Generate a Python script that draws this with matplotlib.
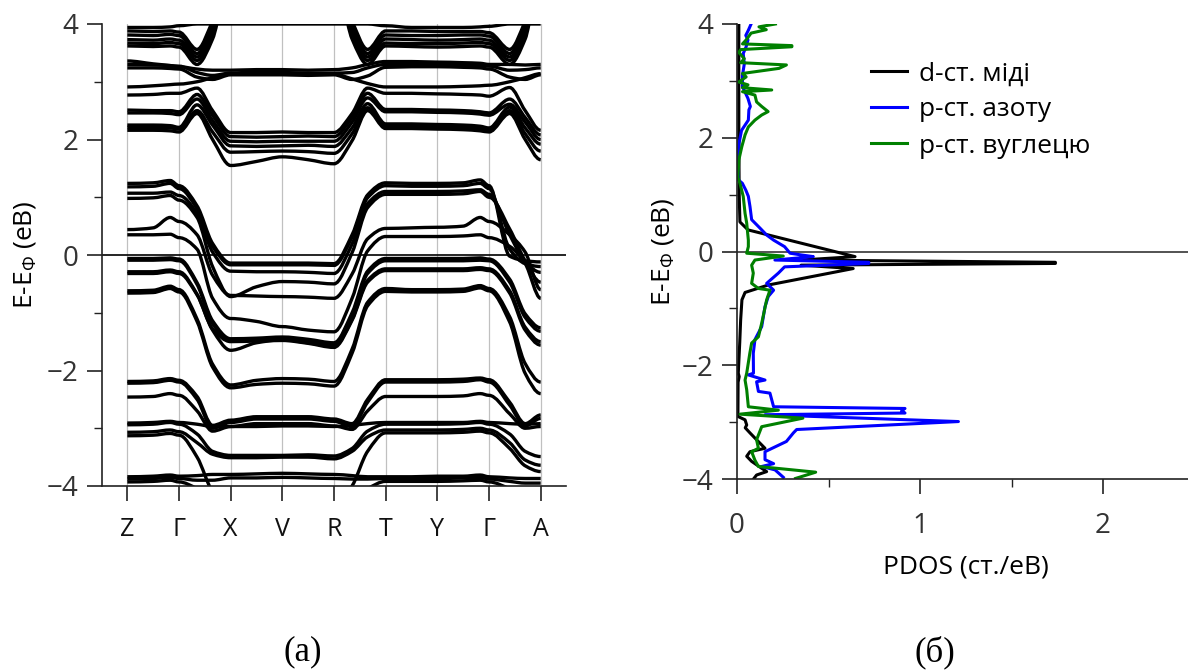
import numpy as np
import matplotlib
matplotlib.use("Agg")
import matplotlib.pyplot as plt
from matplotlib.path import Path
from matplotlib.patches import PathPatch

plt.rcParams['font.family'] = ['Open Sans', 'DejaVu Sans']
plt.rcParams['mathtext.fontset'] = 'custom'
plt.rcParams['mathtext.rm'] = 'Open Sans'
plt.rcParams['mathtext.default'] = 'regular'

# ---- band structure data ----
hs_pos = [0, 1, 2, 3, 4, 5, 6, 7, 8]
hs_labels = ['Z', 'Γ', 'X', 'V', 'R', 'T', 'Y', 'Γ', 'A']

k_nodes = [0, 0.5, 0.83, 1, 1.35, 1.65, 2, 2.5, 3, 3.5, 4, 4.35, 4.65,
           5, 5.5, 6, 6.5, 6.83, 7, 7.4, 7.7, 8]

bands = [
    # upper group (leaves the window between X and R)
    [3.94, 3.94, 3.95, 3.97, 4.0, 4.0, 4.0, 4.0, 4.0, 4.0, 4.0, 4.0, 4.0, 3.97, 3.94, 3.94, 3.94, 3.95, 3.96, 4.0, 4.0, 4.0],
    [3.88, 3.87, 3.88, 3.86, 3.56, 4.05, 4.9, 4.9, 4.9, 4.9, 4.9, 4.05, 3.56, 3.88, 3.88, 3.87, 3.87, 3.87, 3.85, 3.56, 4.05, 4.9],
    [3.81, 3.80, 3.82, 3.80, 3.49, 3.97, 4.9, 4.9, 4.9, 4.9, 4.9, 3.97, 3.49, 3.81, 3.80, 3.80, 3.81, 3.81, 3.79, 3.49, 3.97, 4.9],
    [3.73, 3.72, 3.74, 3.72, 3.43, 3.89, 4.9, 4.9, 4.9, 4.9, 4.9, 3.89, 3.43, 3.74, 3.73, 3.72, 3.73, 3.74, 3.72, 3.43, 3.89, 4.9],
    [3.67, 3.66, 3.68, 3.66, 3.37, 3.82, 4.9, 4.9, 4.9, 4.9, 4.9, 3.82, 3.37, 3.67, 3.66, 3.66, 3.67, 3.68, 3.66, 3.37, 3.82, 4.9],
    [3.62, 3.61, 3.62, 3.60, 3.30, 3.74, 4.9, 4.9, 4.9, 4.9, 4.9, 3.74, 3.30, 3.62, 3.61, 3.60, 3.61, 3.62, 3.60, 3.30, 3.74, 4.9],
    # flat bands around 3 eV
    [3.36, 3.31, 3.28, 3.26, 3.22, 3.20, 3.20, 3.21, 3.21, 3.20, 3.21, 3.24, 3.30, 3.35, 3.35, 3.34, 3.33, 3.32, 3.30, 3.30, 3.29, 3.30],
    [3.30, 3.29, 3.28, 3.27, 3.16, 3.11, 3.15, 3.17, 3.16, 3.15, 3.15, 3.16, 3.24, 3.30, 3.30, 3.30, 3.29, 3.28, 3.27, 3.20, 3.21, 3.24],
    [3.24, 3.24, 3.23, 3.22, 3.08, 3.04, 3.12, 3.12, 3.12, 3.11, 3.12, 3.04, 3.10, 3.25, 3.26, 3.26, 3.25, 3.24, 3.22, 3.08, 3.04, 3.12],
    [2.91, 2.93, 2.95, 2.96, 3.00, 3.07, 3.13, 3.14, 3.14, 3.14, 3.13, 3.05, 2.97, 2.91, 2.91, 2.91, 2.92, 2.93, 2.94, 3.00, 3.07, 3.14],
    # 1.5 - 2.9 eV group
    [2.77, 2.78, 2.80, 2.80, 2.89, 2.50, 2.12, 2.12, 2.13, 2.12, 2.12, 2.45, 2.89, 2.80, 2.80, 2.79, 2.78, 2.77, 2.75, 2.90, 2.50, 2.16],
    [2.51, 2.50, 2.50, 2.48, 2.78, 2.42, 2.05, 2.04, 2.05, 2.06, 2.05, 2.38, 2.80, 2.52, 2.52, 2.51, 2.50, 2.48, 2.46, 2.70, 2.38, 2.08],
    [2.46, 2.46, 2.45, 2.43, 2.70, 2.33, 1.97, 1.96, 1.97, 1.97, 1.97, 2.30, 2.72, 2.48, 2.48, 2.47, 2.46, 2.44, 2.42, 2.61, 2.30, 2.00],
    [2.25, 2.25, 2.24, 2.21, 2.60, 2.25, 1.89, 1.88, 1.89, 1.90, 1.88, 2.20, 2.62, 2.27, 2.27, 2.26, 2.25, 2.23, 2.20, 2.56, 2.20, 1.92],
    [2.21, 2.21, 2.20, 2.18, 2.50, 2.13, 1.78, 1.79, 1.80, 1.79, 1.76, 2.10, 2.55, 2.23, 2.23, 2.22, 2.21, 2.19, 2.17, 2.50, 2.10, 1.80],
    [2.16, 2.16, 2.15, 2.13, 2.45, 2.00, 1.55, 1.62, 1.70, 1.65, 1.58, 1.98, 2.50, 2.19, 2.19, 2.18, 2.17, 2.15, 2.13, 2.45, 2.00, 1.65],
    # bands crossing the Fermi level
    [1.24, 1.25, 1.29, 1.20, 0.85, 0.20, -0.14, -0.14, -0.14, -0.14, -0.15, 0.35, 1.04, 1.25, 1.24, 1.24, 1.25, 1.30, 1.20, -0.02, -0.10, -0.12],
    [1.18, 1.19, 1.24, 1.15, 0.80, 0.15, -0.17, -0.17, -0.17, -0.17, -0.18, 0.31, 0.99, 1.20, 1.19, 1.19, 1.20, 1.24, 1.15, 0.10, -0.15, -0.20],
    [1.07, 1.07, 1.09, 1.03, 0.72, 0.05, -0.28, -0.29, -0.29, -0.30, -0.32, 0.19, 0.89, 1.10, 1.10, 1.10, 1.11, 1.13, 1.05, 0.35, -0.12, -0.30],
    [0.98, 0.99, 1.03, 0.95, 0.65, -0.20, -0.72, -0.55, -0.46, -0.47, -0.50, 0.04, 0.82, 1.05, 1.05, 1.05, 1.06, 1.10, 1.00, 0.45, -0.10, -0.47],
    [0.44, 0.47, 0.65, 0.58, 0.35, -0.35, -0.70, -0.71, -0.72, -0.73, -0.75, -0.33, 0.28, 0.46, 0.47, 0.48, 0.50, 0.65, 0.58, 0.35, 0.05, -0.60],
    [0.35, 0.35, 0.36, 0.30, 0.10, -0.75, -1.10, -1.15, -1.24, -1.30, -1.33, -0.75, 0.07, 0.32, 0.32, 0.32, 0.33, 0.35, 0.30, 0.15, -0.15, -0.75],
    # below the Fermi level
    [-0.06, -0.06, -0.05, -0.07, -0.48, -1.14, -1.45, -1.44, -1.42, -1.46, -1.52, -1.00, -0.28, -0.06, -0.06, -0.06, -0.06, -0.05, -0.07, -0.42, -1.02, -1.26],
    [-0.09, -0.09, -0.08, -0.10, -0.51, -1.19, -1.48, -1.47, -1.45, -1.50, -1.56, -1.05, -0.32, -0.10, -0.10, -0.10, -0.10, -0.09, -0.10, -0.47, -1.08, -1.32],
    [-0.29, -0.29, -0.26, -0.29, -0.68, -1.30, -1.65, -1.52, -1.47, -1.52, -1.58, -1.11, -0.44, -0.24, -0.24, -0.24, -0.24, -0.22, -0.24, -0.62, -1.25, -1.50],
    [-0.32, -0.32, -0.29, -0.32, -0.69, -1.28, -1.50, -1.49, -1.48, -1.53, -1.60, -1.13, -0.47, -0.27, -0.27, -0.27, -0.27, -0.25, -0.27, -0.66, -1.30, -1.56],
    [-0.62, -0.61, -0.54, -0.60, -1.11, -1.89, -2.25, -2.17, -2.14, -2.15, -2.19, -1.63, -0.82, -0.58, -0.60, -0.60, -0.59, -0.53, -0.58, -1.07, -1.88, -2.20],
    [-0.66, -0.65, -0.58, -0.64, -1.15, -1.94, -2.30, -2.24, -2.22, -2.23, -2.27, -1.70, -0.88, -0.63, -0.64, -0.64, -0.63, -0.57, -0.62, -1.16, -2.05, -2.40],
    # -2 ... -4 eV
    [-2.19, -2.18, -2.14, -2.17, -2.45, -2.95, -2.86, -2.80, -2.80, -2.80, -2.84, -2.92, -2.50, -2.16, -2.16, -2.16, -2.15, -2.13, -2.16, -2.55, -2.92, -2.77],
    [-2.22, -2.21, -2.17, -2.20, -2.50, -3.00, -2.90, -2.84, -2.84, -2.84, -2.88, -2.97, -2.55, -2.20, -2.20, -2.20, -2.19, -2.16, -2.20, -2.60, -2.96, -2.83],
    [-2.46, -2.45, -2.40, -2.43, -2.70, -3.05, -2.97, -2.92, -2.92, -2.92, -2.96, -3.02, -2.70, -2.45, -2.45, -2.45, -2.44, -2.40, -2.43, -2.75, -3.00, -2.97],
    [-2.91, -2.90, -2.88, -2.90, -2.93, -2.97, -2.97, -2.97, -2.96, -2.96, -2.97, -2.95, -2.92, -2.90, -2.90, -2.90, -2.90, -2.88, -2.90, -2.92, -2.93, -2.92],
    [-2.94, -2.93, -2.90, -2.93, -3.10, -3.40, -3.47, -3.47, -3.47, -3.46, -3.48, -3.35, -3.05, -2.93, -2.93, -2.93, -2.92, -2.90, -2.93, -3.10, -3.40, -3.49],
    [-3.07, -3.06, -3.03, -3.06, -3.25, -3.45, -3.51, -3.51, -3.50, -3.50, -3.53, -3.40, -3.15, -3.03, -3.03, -3.03, -3.02, -3.00, -3.03, -3.25, -3.55, -3.64],
    [-3.13, -3.12, -3.09, -3.12, -3.50, -4.10, -4.40, -4.40, -4.40, -4.40, -4.40, -4.00, -3.40, -3.08, -3.08, -3.08, -3.07, -3.05, -3.08, -3.35, -3.65, -3.75],
    [-3.84, -3.83, -3.81, -3.83, -3.82, -3.80, -3.80, -3.79, -3.78, -3.79, -3.80, -3.82, -3.84, -3.84, -3.84, -3.83, -3.83, -3.81, -3.84, -3.86, -3.87, -3.87],
    [-3.88, -3.87, -3.85, -3.87, -3.90, -3.90, -3.86, -3.86, -3.85, -3.86, -3.87, -3.88, -3.88, -3.87, -3.87, -3.87, -3.86, -3.85, -3.88, -3.92, -3.95, -3.95],
    [-3.93, -3.92, -3.90, -3.93, -4.05, -4.30, -4.40, -4.40, -4.40, -4.40, -4.40, -4.30, -4.05, -3.92, -3.92, -3.92, -3.91, -3.90, -3.93, -4.05, -4.20, -4.30],
]

# ---- PDOS data (energy, states/eV) ----
e_cu = [4.0, 3.0, 2.0, 1.0, 0.52, 0.38, -0.09, -0.15, -0.19, -0.21, -0.24, -0.3, -0.59,
        -0.72, -0.85, -1.2, -1.6, -2.14, -2.2, -2.3, -2.9, -2.96, -3.05, -3.1, -3.19,
        -3.31, -3.46, -3.52, -3.6, -3.69, -3.75, -3.87, -3.93, -4.0]
dos_cu = [0.01, 0.01, 0.01, 0.012, 0.016, 0.06, 0.645, 0.35, 1.74, 1.74, 0.35, 0.635, 0.17,
          0.044, 0.027, 0.02, 0.015, 0.007, 0.012, 0.006, 0.005, 0.044, 0.053, 0.045, 0.071,
          0.107, 0.153, 0.071, 0.053, 0.08, 0.107, 0.162, 0.107, 0.09]

e_n = [4.0, 3.89, 3.8, 3.72, 3.6, 3.48, 3.3, 3.1, 2.9, 2.69, 2.55, 2.49, 2.31, 2.13, 1.9,
       1.67, 1.26, 1.2, 1.08, 0.97, 0.79, 0.56, 0.41, 0.29, 0.2, 0.085, -0.03, -0.06,
       -0.09, -0.15, -0.19, -0.21, -0.27, -0.38, -0.56, -0.68, -0.79, -0.97, -1.32,
       -1.55, -1.79, -2.14, -2.17, -2.26, -2.29, -2.46, -2.49, -2.73, -2.76, -2.8,
       -2.84, -2.87, -2.99, -3.13, -3.19, -3.34, -3.52, -3.66, -3.73, -3.78, -3.84, -3.97]
dos_n = [0.077, 0.062, 0.048, 0.06, 0.05, 0.034, 0.04, 0.03, 0.03, 0.06, 0.073, 0.065, 0.062,
         0.025, 0.011, 0.007, 0.007, 0.029, 0.048, 0.062, 0.071, 0.08, 0.126, 0.162, 0.2,
         0.26, 0.29, 0.35, 0.417, 0.207, 0.72, 0.72, 0.26, 0.226, 0.162, 0.2, 0.171, 0.153,
         0.135, 0.098, 0.089, 0.09, 0.062, 0.153, 0.107, 0.117, 0.18, 0.2, 0.918, 0.9,
         0.918, 0.153, 1.21, 0.326, 0.308, 0.27, 0.153, 0.153, 0.2, 0.135, 0.208, 0.253]

e_c = [4.0, 3.95, 3.9, 3.84, 3.72, 3.65, 3.62, 3.6, 3.55, 3.5, 3.39, 3.32, 3.28, 3.22,
       3.13, 3.07, 2.98, 2.93, 2.88, 2.84, 2.81, 2.75, 2.63, 2.55, 2.46, 2.4, 2.31, 2.19,
       2.05, 1.84, 1.61, 1.3, 1.2, 0.97, 0.67, 0.5, 0.2, 0.085, -0.03, -0.08, -0.15,
       -0.24, -0.38, -0.56, -0.65, -0.68, -0.85, -1.26, -1.5, -1.61, -1.79, -2.14, -2.26,
       -2.43, -2.73, -2.79, -2.86, -2.93, -3.08, -3.31, -3.46, -3.52, -3.67, -3.78, -3.88, -3.99]
dos_c = [0.21, 0.12, 0.16, 0.077, 0.05, 0.03, 0.3, 0.3, 0.02, 0.01, 0.04, 0.02, 0.27, 0.23,
         0.03, 0.05, 0.01, 0.06, 0.03, 0.19, 0.03, 0.098, 0.107, 0.135, 0.17, 0.135, 0.098,
         0.062, 0.044, 0.026, 0.01, 0.005, 0.016, 0.034, 0.044, 0.053, 0.062, 0.062, 0.053,
         0.253, 0.098, 0.08, 0.089, 0.08, 0.117, 0.18, 0.162, 0.135, 0.117, 0.08, 0.07, 0.053,
         0.044, 0.053, 0.062, 0.226, 0.016, 0.36, 0.135, 0.107, 0.117, 0.08, 0.098, 0.117, 0.43, 0.32]

pdos_labels = ['d-ст. міді', 'р-ст. азоту', 'р-ст. вуглецю']
pdos_colors = ['black', '#0000ff', '#008000']


def band_path(k, e):
    # smooth piecewise cubic through the read-off points, flat at the high-symmetry points
    k = np.asarray(k, float)
    e = np.asarray(e, float)
    h = np.diff(k)
    d = np.diff(e) / h
    m = np.zeros_like(e)
    for i in range(1, len(e) - 1):
        if abs(k[i] - round(k[i])) < 1e-6:
            continue
        if d[i - 1] * d[i] > 0:
            w1 = 2 * h[i] + h[i - 1]
            w2 = h[i] + 2 * h[i - 1]
            m[i] = (w1 + w2) / (w1 / d[i - 1] + w2 / d[i])
    verts = [(k[0], e[0])]
    codes = [Path.MOVETO]
    for i in range(len(k) - 1):
        verts += [(k[i] + h[i] / 3, e[i] + m[i] * h[i] / 3),
                  (k[i + 1] - h[i] / 3, e[i + 1] - m[i + 1] * h[i] / 3),
                  (k[i + 1], e[i + 1])]
        codes += [Path.CURVE4] * 3
    return Path(verts, codes)


fig = plt.figure(figsize=(11.88, 6.72), dpi=100)

tick_col = '#333333'

# ---- (a) band structure ----
ax1 = fig.add_axes([102 / 1188, 186 / 672, 464 / 1188, 462 / 672])
for kk in hs_pos:
    ax1.axvline(kk, color='#c0c0c0', lw=0.9, zorder=0)
ax1.axhline(0, color='black', lw=1.2, zorder=1)
for b in bands:
    ax1.add_patch(PathPatch(band_path(k_nodes, b), fill=False, lw=2.4,
                            edgecolor='black', zorder=2))
ax1.set_xlim(-0.49, 8.49)
ax1.set_ylim(-4, 4)
ax1.set_xticks(hs_pos)
ax1.set_xticklabels(hs_labels)
ax1.set_yticks([-4, -2, 0, 2, 4])
ax1.set_yticks([-3, -1, 1, 3], minor=True)
ax1.set_ylabel('E-E$_Φ$ (eB)', fontsize=19, labelpad=6)

# ---- (б) PDOS ----
ax2 = fig.add_axes([737 / 1188, 193 / 672, 457.5 / 1188, 455 / 672])
ax2.axhline(0, color='#444444', lw=1.3, zorder=1)
for e, d, c, lab in zip([e_cu, e_n, e_c], [dos_cu, dos_n, dos_c], pdos_colors, pdos_labels):
    ax2.plot(d, e, color=c, lw=2.2, label=lab, zorder=2)
ax2.set_xlim(0, 2.5)
ax2.set_ylim(-4, 4)
ax2.set_xticks([0, 1, 2])
ax2.set_xticks([0.5, 1.5, 2.5], minor=True)
ax2.set_yticks([-4, -2, 0, 2, 4])
ax2.set_yticks([-3, -1, 1, 3], minor=True)
ax2.set_ylabel('E-E$_Φ$ (eB)', fontsize=19, labelpad=4)
ax2.set_xlabel('PDOS (ст./eB)', fontsize=19, labelpad=10)
ax2.legend(loc='upper left', bbox_to_anchor=(0.24, 0.97), frameon=False,
           fontsize=19, handlelength=1.4, handletextpad=0.45, labelspacing=0.42)

for ax in (ax1, ax2):
    for s in ('top', 'right'):
        ax.spines[s].set_visible(False)
    for s in ('left', 'bottom'):
        ax.spines[s].set_color('#222222')
        ax.spines[s].set_linewidth(1.2)
    ax.tick_params(which='major', length=11, width=1.2, color='#222222',
                   labelsize=20, labelcolor=tick_col)
    ax.tick_params(which='minor', length=5.5, width=1.0, color='#222222')
    ax.tick_params(axis='y', pad=6)
ax1.tick_params(axis='x', pad=11, labelsize=18, labelcolor='#111111')
ax2.tick_params(axis='x', pad=13)

fig.text(303 / 1188, 1 - 652 / 672, '(а)', family=['Liberation Serif', 'DejaVu Serif'],
         fontsize=25, ha='center', va='center')
fig.text(935 / 1188, 1 - 652 / 672, '(б)', family=['Liberation Serif', 'DejaVu Serif'],
         fontsize=25, ha='center', va='center')

fig.savefig('out.png', dpi=100)
